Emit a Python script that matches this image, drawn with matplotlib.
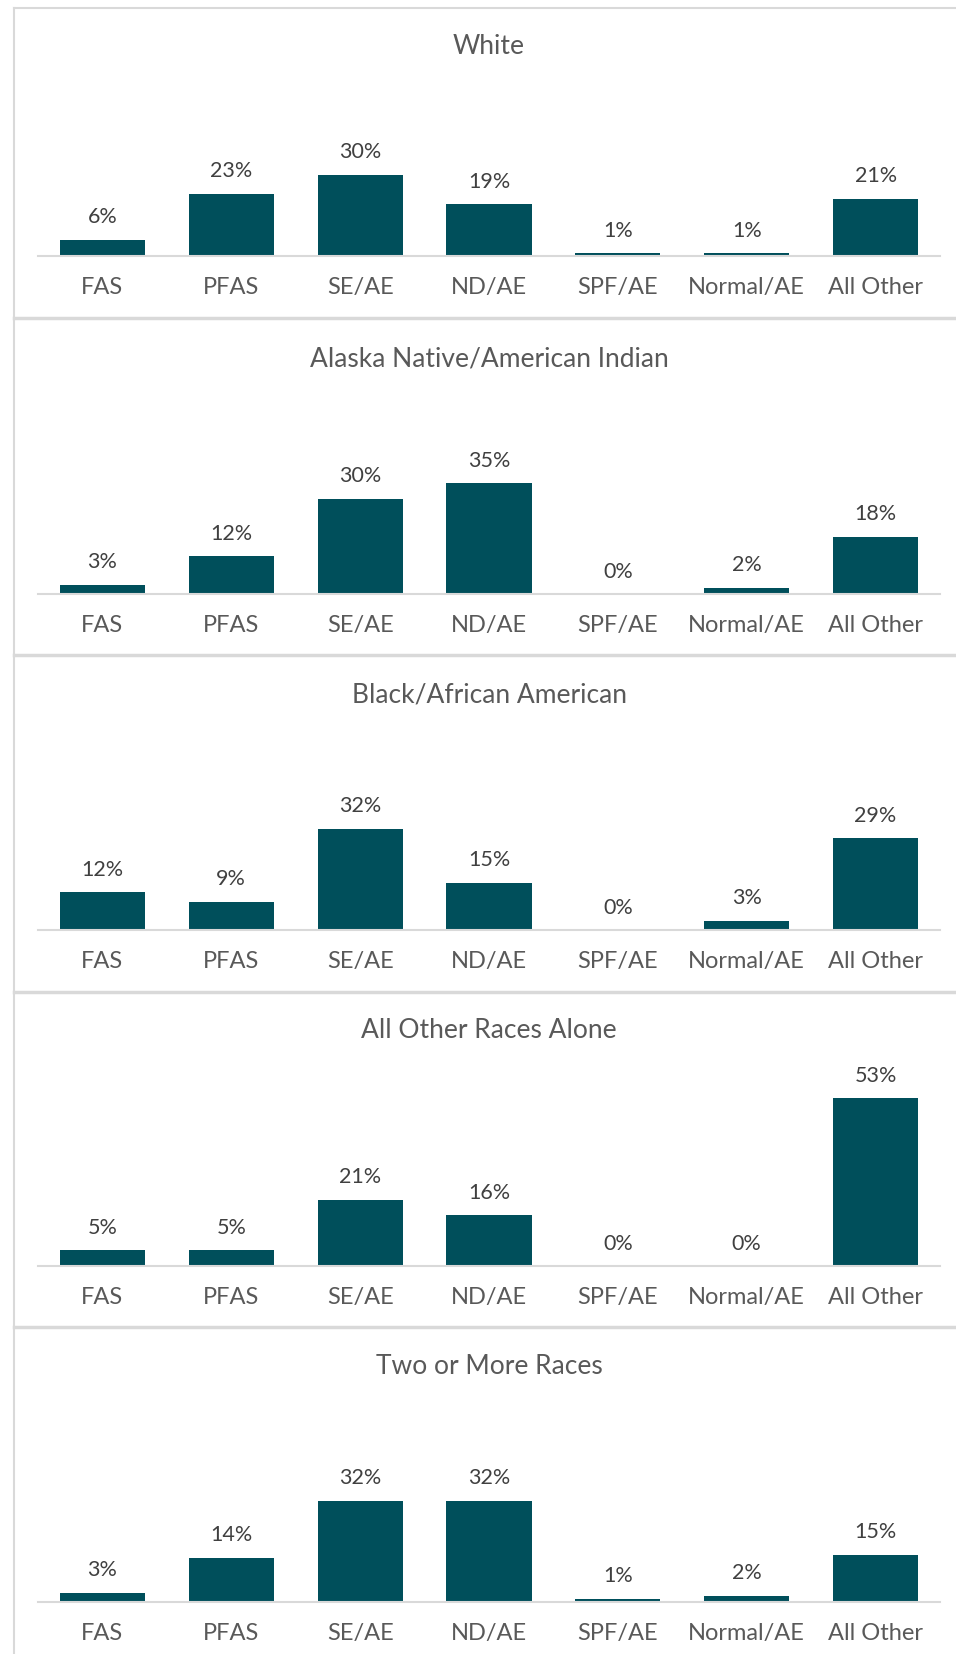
import matplotlib
matplotlib.use("Agg")
import matplotlib.pyplot as plt
from matplotlib.lines import Line2D

plt.rcParams['font.family'] = ['Lato', 'DejaVu Sans']

cats = ['FAS', 'PFAS', 'SE/AE', 'ND/AE', 'SPF/AE', 'Normal/AE', 'All Other']
groups = ['White', 'Alaska Native/American Indian', 'Black/African American',
          'All Other Races Alone', 'Two or More Races']
white = [6, 23, 30, 19, 1, 1, 21]
alaska = [3, 12, 30, 35, 0, 2, 18]
black = [12, 9, 32, 15, 0, 3, 29]
other_races = [5, 5, 21, 16, 0, 0, 53]
two_more = [3, 14, 32, 32, 1, 2, 15]
series = [white, alaska, black, other_races, two_more]
ymax = [70, 60, 60, 60, 60]

W, H = 956, 1654
bar_col = '#004F5B'
grid_col = '#D9D9D9'
txt_col = '#595959'

fig = plt.figure(figsize=(W / 100, H / 100), dpi=100)

baselines = [256, 594, 930, 1266, 1602]
title_y = [46, 359, 695, 1031, 1367]
seps = [318, 655, 992, 1327]
ax_h = 190
x0, x1 = 38, 940

for i in range(5):
    b = baselines[i]
    ax = fig.add_axes([x0 / W, 1 - b / H, (x1 - x0) / W, ax_h / H])
    bars = ax.bar(range(7), series[i], width=0.66, color=bar_col)
    ax.set_xlim(-0.5, 6.5)
    ax.set_ylim(0, ymax[i])
    for bar, v in zip(bars, series[i]):
        ax.annotate(f'{v}%', (bar.get_x() + bar.get_width() / 2, v),
                    xytext=(0, 9), textcoords='offset points',
                    ha='center', va='bottom', fontsize=15.5, color='#404040')
    ax.set_xticks(range(7))
    ax.set_xticklabels(cats, fontsize=17, color=txt_col)
    ax.tick_params(axis='x', length=0, pad=15)
    ax.set_yticks([])
    for s in ['left', 'right', 'top']:
        ax.spines[s].set_visible(False)
    ax.spines['bottom'].set_color(grid_col)
    ax.spines['bottom'].set_linewidth(1.5)
    ax.patch.set_alpha(0)
    fig.text(0.5 * (x0 + x1) / W, 1 - title_y[i] / H, groups[i],
             ha='center', va='center', fontsize=19, color=txt_col)

# panel borders
for s in seps:
    fig.add_artist(Line2D([14 / W, 1], [1 - s / H] * 2, color=grid_col, lw=2.5))
fig.add_artist(Line2D([14 / W, 1], [1 - 8 / H] * 2, color=grid_col, lw=1.5))
fig.add_artist(Line2D([14 / W] * 2, [1 - 8 / H, 0], color=grid_col, lw=1.5))

fig.savefig('out.png', dpi=100)
